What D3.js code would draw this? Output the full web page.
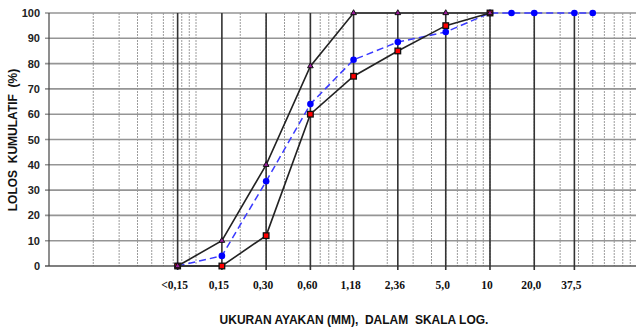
<!DOCTYPE html>
<html>
<head>
<meta charset="utf-8">
<script src="https://cdn.jsdelivr.net/npm/d3@7"></script>
<style>
  body { margin: 0; background: #fff; }
  svg { display: block; }
</style>
</head>
<body>
<svg id="chart" width="636" height="331"></svg>
<script>
// sieve sizes (mm) used by the limit curves
const sieveSizes = [0.075, 0.15, 0.3, 0.6, 1.18, 2.36, 5, 10];
const upperLimit = [0, 10, 40, 79, 100, 100, 100, 100];
const lowerLimit = [0, 0, 12, 60, 75, 85, 95, 100];

// sample grading (blue dashed)
const sampleSizes = [0.075, 0.15, 0.3, 0.6, 1.18, 2.36, 5, 10, 14, 20, 37.5, 50];
const samplePassing = [0, 4, 33.5, 64, 81.5, 88.5, 92.5, 100, 100, 100, 100, 100];

// labelled sieves on the x axis
const labelSizes = [0.075, 0.15, 0.3, 0.6, 1.18, 2.36, 5, 10, 20, 37.5];
const labelTexts = ["<0,15", "0,15", "0,30", "0,60", "1,18", "2,36", "5,0", "10", "20,0", "37,5"];

const yTicks = [0, 10, 20, 30, 40, 50, 60, 70, 80, 90, 100];

const svg = d3.select("#chart");
const margin = { top: 13, right: 0, bottom: 65, left: 49 };
const width = 636, height = 331;

const x = d3.scaleLog().domain([0.01, 100]).range([margin.left, 637]);
const y = d3.scaleLinear().domain([0, 100]).range([266, margin.top]);

// minor log grid
const minor = [];
for (let k = -2; k <= 1; k++) {
  for (let m = 1; m <= 9; m++) minor.push(m * Math.pow(10, k));
}
svg.append("g")
  .selectAll("line")
  .data(minor.filter(d => d > 0.01))
  .join("line")
  .attr("x1", d => x(d)).attr("x2", d => x(d))
  .attr("y1", y(100)).attr("y2", y(0))
  .attr("stroke", "#9c9c9c")
  .attr("stroke-width", 1)
  .attr("stroke-dasharray", "2,1");

// horizontal grid
svg.append("g")
  .selectAll("line")
  .data(yTicks)
  .join("line")
  .attr("x1", margin.left - 4).attr("x2", width)
  .attr("y1", d => y(d)).attr("y2", d => y(d))
  .attr("stroke", d => d === 0 ? "#555" : "#959595")
  .attr("stroke-width", 1.6);

// heavy sieve lines
svg.append("g")
  .selectAll("line")
  .data(labelSizes)
  .join("line")
  .attr("x1", d => x(d)).attr("x2", d => x(d))
  .attr("y1", y(100)).attr("y2", y(0) + 4)
  .attr("stroke", "#333")
  .attr("stroke-width", 1.6);

// y axis line
svg.append("line")
  .attr("x1", margin.left).attr("x2", margin.left)
  .attr("y1", y(100)).attr("y2", y(0))
  .attr("stroke", "#444").attr("stroke-width", 1.2);

// y tick labels
svg.append("g")
  .selectAll("text")
  .data(yTicks)
  .join("text")
  .attr("x", 40)
  .attr("y", d => y(d) + 4)
  .attr("text-anchor", "end")
  .attr("font-family", "Liberation Sans, Arial, sans-serif")
  .attr("font-weight", "bold")
  .attr("font-size", 11)
  .attr("fill", "#222")
  .text(d => d);

// x tick labels
svg.append("g")
  .selectAll("text")
  .data(labelSizes)
  .join("text")
  .attr("x", (d, i) => x(d) - 3)
  .attr("y", 289)
  .attr("text-anchor", "middle")
  .attr("font-family", "Liberation Serif, 'Times New Roman', serif")
  .attr("font-weight", "bold")
  .attr("font-size", 11.5)
  .attr("fill", "#111")
  .text((d, i) => labelTexts[i]);

// axis titles
svg.append("text")
  .attr("transform", "translate(17,140) rotate(-90)")
  .attr("text-anchor", "middle")
  .attr("font-family", "Liberation Sans, Arial, sans-serif")
  .attr("font-weight", "bold")
  .attr("font-size", 12)
  .attr("fill", "#111")
  .attr("xml:space", "preserve")
  .text("LOLOS  KUMULATIF  (%)");

svg.append("text")
  .attr("x", 354)
  .attr("y", 324)
  .attr("text-anchor", "middle")
  .attr("font-family", "Liberation Sans, Arial, sans-serif")
  .attr("font-weight", "bold")
  .attr("font-size", 12)
  .attr("fill", "#111")
  .attr("xml:space", "preserve")
  .text("UKURAN AYAKAN (MM),  DALAM  SKALA LOG.");

const line = d3.line().x(d => x(d[0])).y(d => y(d[1]));
const sample = sampleSizes.map((s, i) => [s, samplePassing[i]]);
const lower = sieveSizes.map((s, i) => [s, lowerLimit[i]]);
const upper = sieveSizes.map((s, i) => [s, upperLimit[i]]);

// sample curve
svg.append("path")
  .datum(sample)
  .attr("d", line)
  .attr("fill", "none")
  .attr("stroke", "#3a3aff")
  .attr("stroke-width", 1.5)
  .attr("stroke-dasharray", "7,4");
svg.append("g")
  .selectAll("circle")
  .data(sample)
  .join("circle")
  .attr("cx", d => x(d[0])).attr("cy", d => y(d[1]))
  .attr("r", 3.3)
  .attr("fill", "#0000ff");

// lower limit
svg.append("path")
  .datum(lower)
  .attr("d", line)
  .attr("fill", "none")
  .attr("stroke", "#222")
  .attr("stroke-width", 1.6);
svg.append("g")
  .selectAll("rect")
  .data(lower)
  .join("rect")
  .attr("x", d => x(d[0]) - 2.8).attr("y", d => y(d[1]) - 2.8)
  .attr("width", 5.6).attr("height", 5.6)
  .attr("fill", "#ff0000")
  .attr("stroke", "#111")
  .attr("stroke-width", 1.3);

// upper limit
svg.append("path")
  .datum(upper)
  .attr("d", line)
  .attr("fill", "none")
  .attr("stroke", "#222")
  .attr("stroke-width", 1.6);
svg.append("g")
  .selectAll("path")
  .data(upper)
  .join("path")
  .attr("transform", d => `translate(${x(d[0])},${y(d[1])})`)
  .attr("d", d3.symbol(d3.symbolTriangle, 14))
  .attr("fill", "#9a1a9a")
  .attr("stroke", "#111")
  .attr("stroke-width", 1);
</script>
</body>
</html>
